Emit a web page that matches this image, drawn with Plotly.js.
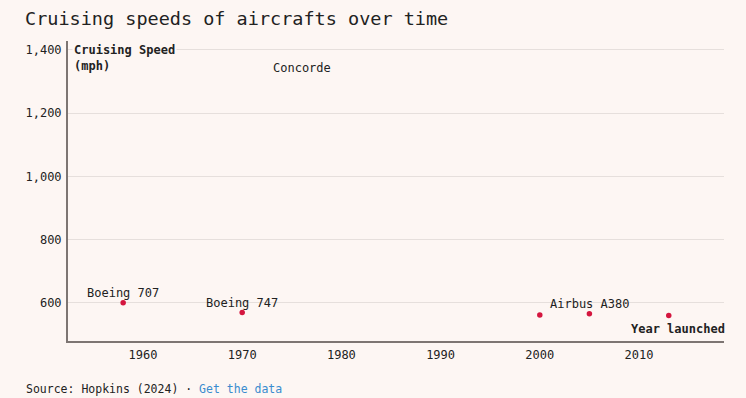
<!DOCTYPE html>
<html>
<head>
<meta charset="utf-8">
<script src="https://cdn.plot.ly/plotly-3.0.1.min.js"></script>
<style>
  html, body { margin: 0; padding: 0; background: #fdf6f3; }
  #chart { width: 746px; height: 398px; }
</style>
</head>
<body>
<div id="chart"></div>
<script>
// Data
const aircraft = ["Boeing 707", "Boeing 747", "Concorde", "", "Airbus A380", ""];
const yearLaunched = [1958, 1970, 1976, 2000, 2005, 2013];
const cruisingSpeed = [600, 569, 1354, 561, 565, 560];
const hasDot = [true, true, false, true, true, true];
const yTickVals = [600, 800, 1000, 1200, 1400];
const xTickVals = [1960, 1970, 1980, 1990, 2000, 2010];

const FONT = "'DejaVu Sans Mono', monospace";
const BG = "#fdf6f3";
const INK = "#222222";

const dotX = yearLaunched.filter((_, i) => hasDot[i]);
const dotY = cruisingSpeed.filter((_, i) => hasDot[i]);

const traces = [{
  type: "scatter",
  mode: "markers",
  x: dotX,
  y: dotY,
  marker: { color: "#d4163f", size: 5.5 },
  hoverinfo: "skip",
  cliponaxis: false
}];

const annotations = [];
aircraft.forEach((name, i) => {
  if (!name) return;
  annotations.push({
    x: yearLaunched[i], y: cruisingSpeed[i], xref: "x", yref: "y",
    text: name, showarrow: false,
    xanchor: "center", yanchor: "middle",
    yshift: hasDot[i] ? 9.5 : -3.5,
    font: { family: FONT, size: 12, color: INK }
  });
});

annotations.push({
  xref: "paper", yref: "paper", x: 0, y: 1, xshift: 4, yshift: 0,
  xanchor: "left", yanchor: "top", align: "left",
  text: "<b>Cruising Speed</b><br><b>(mph)</b>", showarrow: false,
  bgcolor: BG,
  font: { family: FONT, size: 12, color: INK }
});
annotations.push({
  xref: "paper", yref: "paper", x: 1, y: 0, xshift: 3, yshift: 3,
  xanchor: "right", yanchor: "bottom",
  text: "<b>Year launched</b>", showarrow: false,
  bgcolor: BG,
  font: { family: FONT, size: 12, color: INK }
});
annotations.push({
  xref: "paper", yref: "paper", x: 0, y: 0, xshift: -44, yshift: -57,
  xanchor: "left", yanchor: "bottom",
  text: "Source: Hopkins (2024) · <span style='color:#3a8ccf'>Get the data</span>",
  showarrow: false,
  font: { family: FONT, size: 11.5, color: INK }
});

const layout = {
  width: 746, height: 398,
  paper_bgcolor: BG, plot_bgcolor: BG,
  margin: { l: 68, r: 22, t: 41, b: 56.5, pad: 0 },
  separators: ".,",
  showlegend: false,
  title: {
    text: "Cruising speeds of aircrafts over time",
    x: 25 / 746, xanchor: "left", xref: "container",
    y: 1 - 19 / 398, yanchor: "middle", yref: "container",
    font: { family: FONT, size: 18.5, color: INK }
  },
  xaxis: {
    range: [1952.44, 2018.57],
    tickvals: xTickVals,
    ticks: "", showgrid: false, zeroline: false,
    showline: true, linecolor: "#7d7572", linewidth: 2,
    tickfont: { family: FONT, size: 12, color: INK },
    ticklabelstandoff: 2,
    fixedrange: true
  },
  yaxis: {
    range: [479, 1428],
    tickvals: yTickVals, tickformat: ",d",
    ticks: "", showgrid: true, gridcolor: "#e6dfdc", gridwidth: 1,
    zeroline: false,
    showline: true, linecolor: "#7d7572", linewidth: 2,
    tickfont: { family: FONT, size: 12, color: INK },
    ticklabelstandoff: 2,
    fixedrange: true
  },
  annotations: annotations
};

Plotly.newPlot("chart", traces, layout, { displayModeBar: false, staticPlot: true });
</script>
</body>
</html>
